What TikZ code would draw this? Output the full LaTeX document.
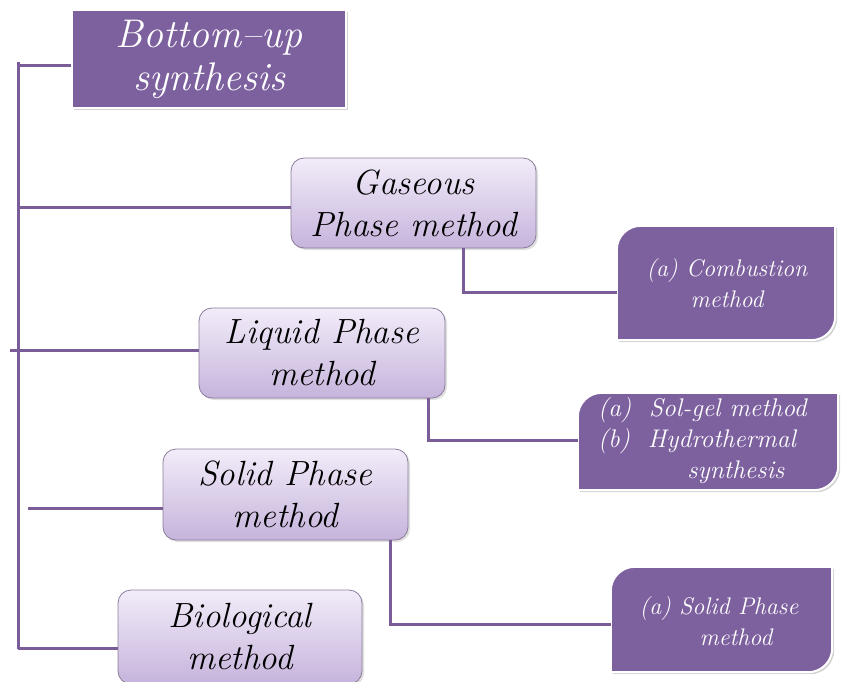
\documentclass[tikz,border=0pt]{standalone}
\usetikzlibrary{shadows}
\definecolor{dpurple}{HTML}{7D619F}
\definecolor{lnpurple}{HTML}{7A5C98}
\definecolor{lavtop}{HTML}{F2ECF9}
\definecolor{lavbot}{HTML}{C6B4DC}
\definecolor{lavedge}{HTML}{8A7C9A}
\newcommand\cutbox[1]{%
  \path[fill=dpurple,draw=white,line width=2pt,drop shadow={shadow xshift=2pt,shadow yshift=-2pt,opacity=0.35}]
    (#1.south west) -- ([yshift=-24pt]#1.north west)
    arc[start angle=180,end angle=90,radius=24pt]
    -- (#1.north east) -- ([yshift=24pt]#1.south east)
    arc[start angle=0,end angle=-90,radius=24pt] -- cycle;}
\begin{document}
\begin{tikzpicture}[x=1pt,y=-1pt,
  conn/.style={draw=lnpurple,line width=3pt},
  topbox/.style={fill=dpurple,draw=white,line width=2pt,text=white,font=\itshape\fontsize{40}{43}\selectfont,align=center,inner sep=0pt,drop shadow={shadow xshift=2pt,shadow yshift=-2pt,opacity=0.35}},
  lavbox/.style={rounded corners=13pt,top color=lavtop,bottom color=lavbot,draw=lavedge,line width=0.8pt,font=\itshape\fontsize{35}{42}\selectfont,align=center,inner sep=0pt,drop shadow={shadow xshift=2pt,shadow yshift=-2pt,opacity=0.25}},
  subtext/.style={text=white,font=\itshape\fontsize{24}{31}\selectfont,inner sep=0pt}]
\useasboundingbox (0,0) rectangle (843,681);
% trunk coordinates
\coordinate (tA) at (18,62);
\coordinate (tB) at (18,649);
\coordinate (t0) at (18,65);
\coordinate (g0) at (18,207);
\coordinate (l0) at (10,350);
\coordinate (s0) at (28,508);
\coordinate (b0) at (18,648);
\coordinate (gk) at (463,292);
\coordinate (lk) at (428,440);
\coordinate (sk) at (390,624);
% main nodes
\node[topbox,minimum width=274pt,minimum height=98pt] (top) at (209,59) {Bottom--up\\synthesis};
\node[lavbox,minimum width=245pt,minimum height=90pt] (gas) at (413.5,203) {Gaseous\\Phase method};
\node[lavbox,minimum width=246pt,minimum height=90pt] (liq) at (322,353) {Liquid Phase\\method};
\node[lavbox,minimum width=245pt,minimum height=91pt] (solid) at (285.5,494.5) {Solid Phase\\method};
\node[lavbox,minimum width=244pt,minimum height=94pt] (bio) at (240,637) {Biological\\method};
% sub boxes
\node[minimum width=218pt,minimum height=114pt,inner sep=0pt] (comb) at (726,283) {};
\node[minimum width=260pt,minimum height=97pt,inner sep=0pt] (solg) at (708,441.5) {};
\node[minimum width=221pt,minimum height=105pt,inner sep=0pt] (solsub) at (721.5,619.5) {};
\cutbox{comb}
\cutbox{solg}
\cutbox{solsub}
\node[subtext,align=center] (combt) at (727,283) {(a) Combustion\\method};
\node[subtext,align=left,anchor=west,font=\itshape\fontsize{25.5}{31}\selectfont] (solgt) at (598,441) {(a)\ \ Sol-gel method\\(b)\ \ Hydrothermal\\\hspace{3.5em}synthesis};
\node[subtext,align=left] (solsubt) at (719,621) {(a) Solid Phase\\\hspace{2.5em}method};
% connectors
\draw[conn] (tA) -- (tB);
\draw[conn] (t0) -- (t0 -| top.west);
\draw[conn] (g0) -- (g0 -| gas.west);
\draw[conn] (l0) -- (l0 -| liq.west);
\draw[conn] (s0) -- (s0 -| solid.west);
\draw[conn] (b0) -- (b0 -| bio.west);
\draw[conn] (gas.south -| gk) |- (gk -| comb.west);
\draw[conn] (liq.south -| lk) |- (lk -| solg.west);
\draw[conn] (solid.south -| sk) |- (sk -| solsub.west);
\end{tikzpicture}
\end{document}
